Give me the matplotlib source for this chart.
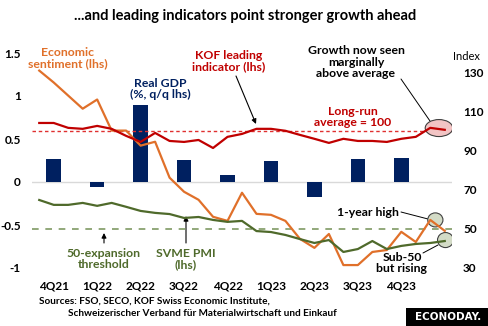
import matplotlib
matplotlib.use("Agg")
import matplotlib.pyplot as plt
import numpy as np
from matplotlib.patches import Ellipse, Rectangle

plt.rcParams['font.family'] = ['Lato', 'DejaVu Sans']
plt.rcParams['axes.unicode_minus'] = False

# quarterly real GDP, % q/q (lhs)
quarters = ['4Q21', '1Q22', '2Q22', '3Q22', '4Q22', '1Q23', '2Q23', '3Q23', '4Q23']
gdp = [0.27, -0.06, 0.89, 0.26, 0.085, 0.25, -0.17, 0.27, 0.28]

# monthly indices, Oct 2021 .. Feb 2024 (index axis)
sentiment = [131.0, 124.9, 118.2, 111.5, 116.2, 100.3, 100.3, 92.6, 94.6, 76.2,
             69.0, 64.9, 56.2, 54.1, 68.5, 57.7, 57.2, 54.1, 44.9, 40.3,
             47.4, 31.5, 31.5, 38.2, 39.2, 48.5, 43.3, 54.6, 49.0]
kof = [104.2, 104.2, 101.7, 101.2, 102.7, 101.2, 97.6, 94.5, 99.1, 95.0,
       94.5, 95.5, 91.4, 97.1, 98.6, 101.2, 101.2, 100.2, 98.1, 96.1,
       94.0, 96.1, 95.0, 95.0, 94.5, 96.1, 97.1, 101.7, 100.7]
pmi = [64.8, 62.3, 62.3, 63.3, 61.8, 63.3, 61.3, 59.2, 58.2, 57.6,
       55.6, 56.1, 54.6, 53.6, 54.1, 48.9, 48.4, 46.9, 44.8, 42.8,
       44.3, 38.2, 39.7, 43.8, 39.7, 41.3, 42.3, 42.8, 43.8]
long_run_avg = 100
pmi_threshold = 50

navy = '#002060'
orange = '#E0702A'
red = '#C00000'
green = '#4F6A2B'

months = np.arange(len(kof))
bar_x = np.arange(len(quarters)) * 3 + 1

W, H = 489, 326
fig = plt.figure(figsize=(W / 100, H / 100), dpi=100)
ax = fig.add_axes([32 / W, 58 / H, 420 / W, 215 / H])
ax2 = ax.twinx()


def px(x, y):
    # image pixel (top-left origin) -> figure pixels
    return (x, H - y)


ax.axhline(0, color='#D9D9D9', lw=1, zorder=1)
ax.bar(bar_x, gdp, width=1.0, color=navy, zorder=2)
ax.set_xlim(-0.5, 28.5)
ax.set_ylim(-1, 1.5)
ax.set_yticks([-1, -0.5, 0, 0.5, 1, 1.5], ['-1', '-0.5', '0', '0.5', '1', '1.5'])
ax.set_xticks(bar_x, quarters)
ax.tick_params(length=0, labelsize=8.5, pad=8)
ax.tick_params(axis='x', pad=9)

ax2.set_ylim(30, 140)
ax2.set_yticks([30, 50, 70, 90, 110, 130])
ax2.tick_params(length=0, labelsize=8.5, pad=8)
for a in (ax, ax2):
    for s in a.spines.values():
        s.set_visible(False)
    for lab in a.get_xticklabels() + a.get_yticklabels():
        lab.set_fontweight('bold')

ax2.axhline(long_run_avg, color='#E03030', lw=1, ls=(0, (2.5, 2)), zorder=2)
ax2.axhline(pmi_threshold, color='#7F9A64', lw=1.2, ls=(0, (4, 4)), zorder=2)

ax2.add_patch(Ellipse((27.6, 101.6), 1.9, 8.7, facecolor='#F2C4C4', edgecolor='#404040', lw=0.8, zorder=3))
ax2.add_patch(Ellipse((27.35, 54.6), 1.05, 7.2, facecolor='#D3DBC6', edgecolor='#404040', lw=0.8, zorder=3))
ax2.add_patch(Ellipse((28.05, 44.3), 1.1, 7.7, facecolor='#D3DBC6', edgecolor='#404040', lw=0.8, zorder=3))

ax2.plot(months, sentiment, color=orange, lw=1.6, zorder=4)
ax2.plot(months, pmi, color=green, lw=1.6, zorder=4)
ax2.plot(months, kof, color=red, lw=1.6, zorder=5)

fs = 8.8
fig.text(245 / W, 1 - 16 / H, '...and leading indicators point stronger growth ahead',
         ha='center', va='center', fontsize=10.5, fontweight='bold')
fig.text(466 / W, 1 - 56 / H, 'Index', ha='center', va='center', fontsize=8, color='black')


def label(x, y, s, color):
    fig.text(x / W, 1 - y / H, s, ha='center', va='center', fontsize=fs,
             fontweight='bold', color=color, linespacing=1.1)


label(68, 58, 'Economic\nsentiment (lhs)', orange)
label(160, 89, 'Real GDP\n(%, q/q lhs)', navy)
label(229, 61, 'KOF leading\nindicator (lhs)', red)
label(356, 62, 'Growth now seen\nmarginally\nabove average', 'black')
label(353, 117, 'Long-run\naverage = 100', red)
label(368, 212, '1-year high', 'black')
label(402, 263, 'Sub-50\nbut rising', 'black')
label(186, 259, 'SVME PMI\n(lhs)', green)
label(104, 259, '50-expansion\nthreshold', green)

arrow = dict(arrowstyle='-|>', color='black', lw=0.8, mutation_scale=7, shrinkA=0, shrinkB=0)
plain = dict(arrowstyle='-', color='black', lw=0.7, shrinkA=0, shrinkB=0)
ax.annotate('', xy=px(256, 124), xytext=px(236, 76), xycoords='figure pixels',
            textcoords='figure pixels', arrowprops=arrow)
ax.annotate('', xy=px(186, 216), xytext=px(186, 243), xycoords='figure pixels',
            textcoords='figure pixels', arrowprops=arrow)
ax.annotate('', xy=px(104, 233), xytext=px(104, 243), xycoords='figure pixels',
            textcoords='figure pixels', arrowprops=arrow)
ax.annotate('', xy=px(430, 121), xytext=px(401, 79), xycoords='figure pixels',
            textcoords='figure pixels', arrowprops=plain)
ax.annotate('', xy=px(428, 219), xytext=px(401, 212), xycoords='figure pixels',
            textcoords='figure pixels', arrowprops=plain)
ax.annotate('', xy=px(438, 245), xytext=px(423, 253), xycoords='figure pixels',
            textcoords='figure pixels', arrowprops=plain)

fig.text(39 / W, 1 - 301 / H, 'Sources: FSO, SECO, KOF Swiss Economic Institute,',
         ha='left', va='center', fontsize=7.2, fontweight='bold')
fig.text(68 / W, 1 - 314 / H, 'Schweizerischer Verband für Materialwirtschaft und Einkauf',
         ha='left', va='center', fontsize=7.2, fontweight='bold')

fig.add_artist(Rectangle((406 / W, 0), 83 / W, 18 / H, transform=fig.transFigure,
                         facecolor='black', edgecolor='none'))
fig.text(448 / W, 9 / H, 'ECONODAY.', ha='center', va='center', color='white',
         fontsize=7.5, fontweight='bold', family='DejaVu Sans')

fig.savefig('out.png', dpi=100)
